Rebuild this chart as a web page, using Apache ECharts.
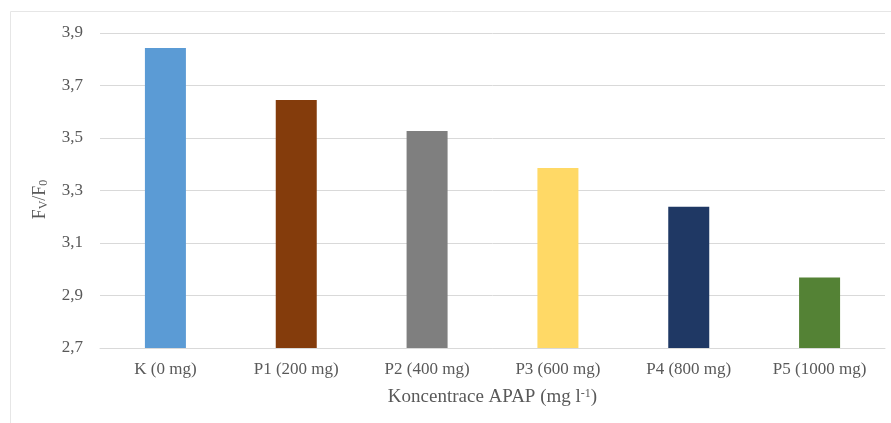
<!DOCTYPE html>
<html><head><meta charset="utf-8">
<script src="https://cdn.jsdelivr.net/npm/echarts@6/dist/echarts.min.js"></script>
<style>html,body{margin:0;padding:0;background:#fff}#c{width:891px;height:423px}</style>
</head><body><div id="c"></div>
<script>
const categories = ['K (0 mg)', 'P1 (200 mg)', 'P2 (400 mg)', 'P3 (600 mg)', 'P4 (800 mg)', 'P5 (1000 mg)'];
const values = [3.843, 3.645, 3.527, 3.386, 3.238, 2.969];
const barColors = ['#5B9BD5', '#843C0C', '#7F7F7F', '#FFD966', '#1F3864', '#548235'];
const yTicks = { min: 2.7, max: 3.9, interval: 0.2 };

const chart = echarts.init(document.getElementById('c'));
const font = "'Liberation Serif', 'Times New Roman', serif";
chart.setOption({
  animation: false,
  textStyle: { fontFamily: font },
  graphic: [{ type: 'rect', shape: { x: 10.5, y: 11.5, width: 900, height: 430 }, style: { fill: 'none', stroke: '#e6e6e6', lineWidth: 1 }, silent: true }],
  grid: { left: 100, right: 6, top: 33, bottom: 75 },
  xAxis: {
    type: 'category', data: categories,
    axisLine: { lineStyle: { color: '#d9d9d9' } },
    axisTick: { show: false },
    axisLabel: { color: '#595959', fontSize: 17, fontFamily: font, margin: 13 },
    name: '{t|Koncentrace APAP (mg l}{s|-1}{t|)}',
    nameLocation: 'middle', nameGap: 40,
    nameTextStyle: { rich: { t: { fontSize: 19, color: '#595959', fontFamily: font }, s: { fontSize: 12, color: '#595959', fontFamily: font, verticalAlign: 'top', padding: [0, 0, 7, 0] } } }
  },
  yAxis: {
    type: 'value', min: yTicks.min, max: yTicks.max, interval: yTicks.interval,
    axisLine: { show: false }, axisTick: { show: false },
    splitLine: { lineStyle: { color: '#d9d9d9' } },
    axisLabel: { color: '#595959', fontSize: 17, fontFamily: font, margin: 17, formatter: v => v.toFixed(1).replace('.', ',') },
    name: '{t|F}{s|V}{t|/F}{s|0}',
    nameLocation: 'middle', nameGap: 50, nameRotate: 90,
    nameTextStyle: { padding: [0, 18, 0, 0], rich: { t: { fontSize: 18, color: '#595959', fontFamily: font }, s: { fontSize: 12, color: '#595959', fontFamily: font, verticalAlign: 'bottom', padding: [7, 0, 0, 0] } } }
  },
  series: [{
    type: 'bar', barWidth: 41,
    data: values.map((v, i) => ({ value: v, itemStyle: { color: barColors[i] } }))
  }]
});
</script></body></html>
